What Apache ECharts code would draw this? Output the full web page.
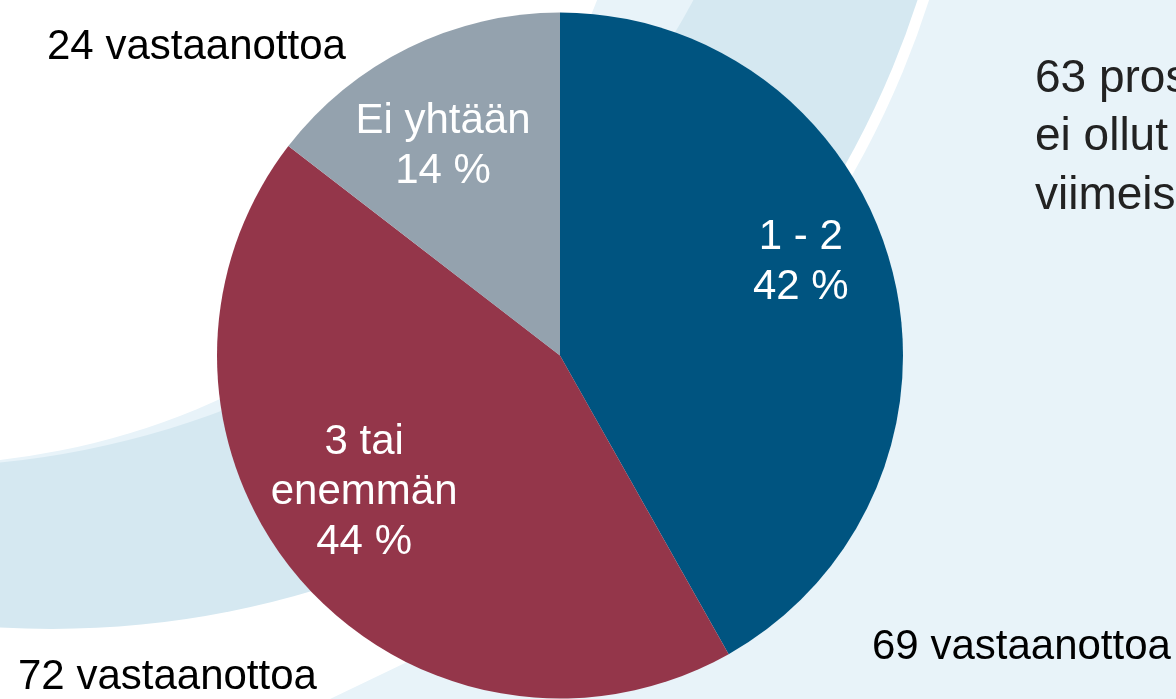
<!DOCTYPE html>
<html>
<head>
<meta charset="utf-8">
<script src="https://cdn.jsdelivr.net/npm/echarts@6/dist/echarts.min.js"></script>
<style>
  html, body { margin: 0; padding: 0; background: #fff; }
  #main { width: 1176px; height: 699px; }
</style>
</head>
<body>
<div id="main"></div>
<script>
// data
var categories = ['1 - 2', '3 tai\nenemmän', 'Ei yhtään'];
var counts = [69, 72, 24];
var percents = [42, 44, 14];
var countSuffix = ' vastaanottoa';
var noteLines = ['63 prosenttia', 'ei ollut', 'viimeisen'];

var colors = ['#005480', '#94364a', '#94a2ae'];
var font = '"Liberation Sans", Arial, sans-serif';

// where the label of each slice sits, relative to the default inside spot
var labelOffsets = [[72, -49], [-64, 23], [-40, -52]];
// where each "N vastaanottoa" text starts (left x, middle y)
var countPos = [[872, 647], [18, 677], [47, 47]];

var myChart = echarts.init(document.getElementById('main'));

var pieData = [];
for (var i = 0; i < categories.length; i++) {
    pieData.push({
        name: categories[i],
        value: counts[i],
        itemStyle: { color: colors[i] },
        label: { offset: labelOffsets[i] }
    });
}

// background swooshes
var bg = [
    { type: 'polygon', z: -20, shape: { points: [[700, 0], [1176, 0], [1176, 699], [330, 699], [405, 663], [470, 610], [560, 400], [650, 150]] }, style: { fill: '#e8f3f9' } },
    { type: 'circle', z: -19, shape: { cx: 52, cy: -281, r: 921 }, style: { fill: '#ffffff' } },
    { type: 'circle', z: -18, shape: { cx: 52, cy: -281, r: 910 }, style: { fill: '#d5e8f1' } },
    { type: 'circle', z: -17, shape: { cx: -89, cy: -422, r: 889 }, style: { fill: '#e8f3f9' } },
    { type: 'circle', z: -16, shape: { cx: -82, cy: -264, r: 728.6 }, style: { fill: '#ffffff' } }
];

var texts = [];
for (var j = 0; j < counts.length; j++) {
    texts.push({
        type: 'text', z: 50,
        style: {
            text: counts[j] + countSuffix,
            x: countPos[j][0], y: countPos[j][1],
            fill: '#000', font: '42px ' + font,
            textAlign: 'left', textVerticalAlign: 'middle'
        }
    });
}
for (var k = 0; k < noteLines.length; k++) {
    texts.push({
        type: 'text', z: 50,
        style: {
            text: noteLines[k],
            x: 1035, y: 79 + k * 58.5,
            fill: '#222', font: '46px ' + font,
            textAlign: 'left', textVerticalAlign: 'middle'
        }
    });
}

myChart.setOption({
    animation: false,
    graphic: { elements: bg.concat(texts) },
    series: [{
        type: 'pie',
        center: [560, 355.5],
        radius: 343,
        startAngle: 90,
        clockwise: true,
        silent: true,
        itemStyle: { borderWidth: 0 },
        label: {
            show: true,
            position: 'inside',
            color: '#fff',
            fontFamily: font,
            fontSize: 42,
            lineHeight: 50,
            align: 'center',
            formatter: function (p) {
                return categories[p.dataIndex] + '\n' + percents[p.dataIndex] + ' %';
            }
        },
        labelLine: { show: false },
        emphasis: { disabled: true },
        data: pieData
    }]
});
</script>
</body>
</html>
